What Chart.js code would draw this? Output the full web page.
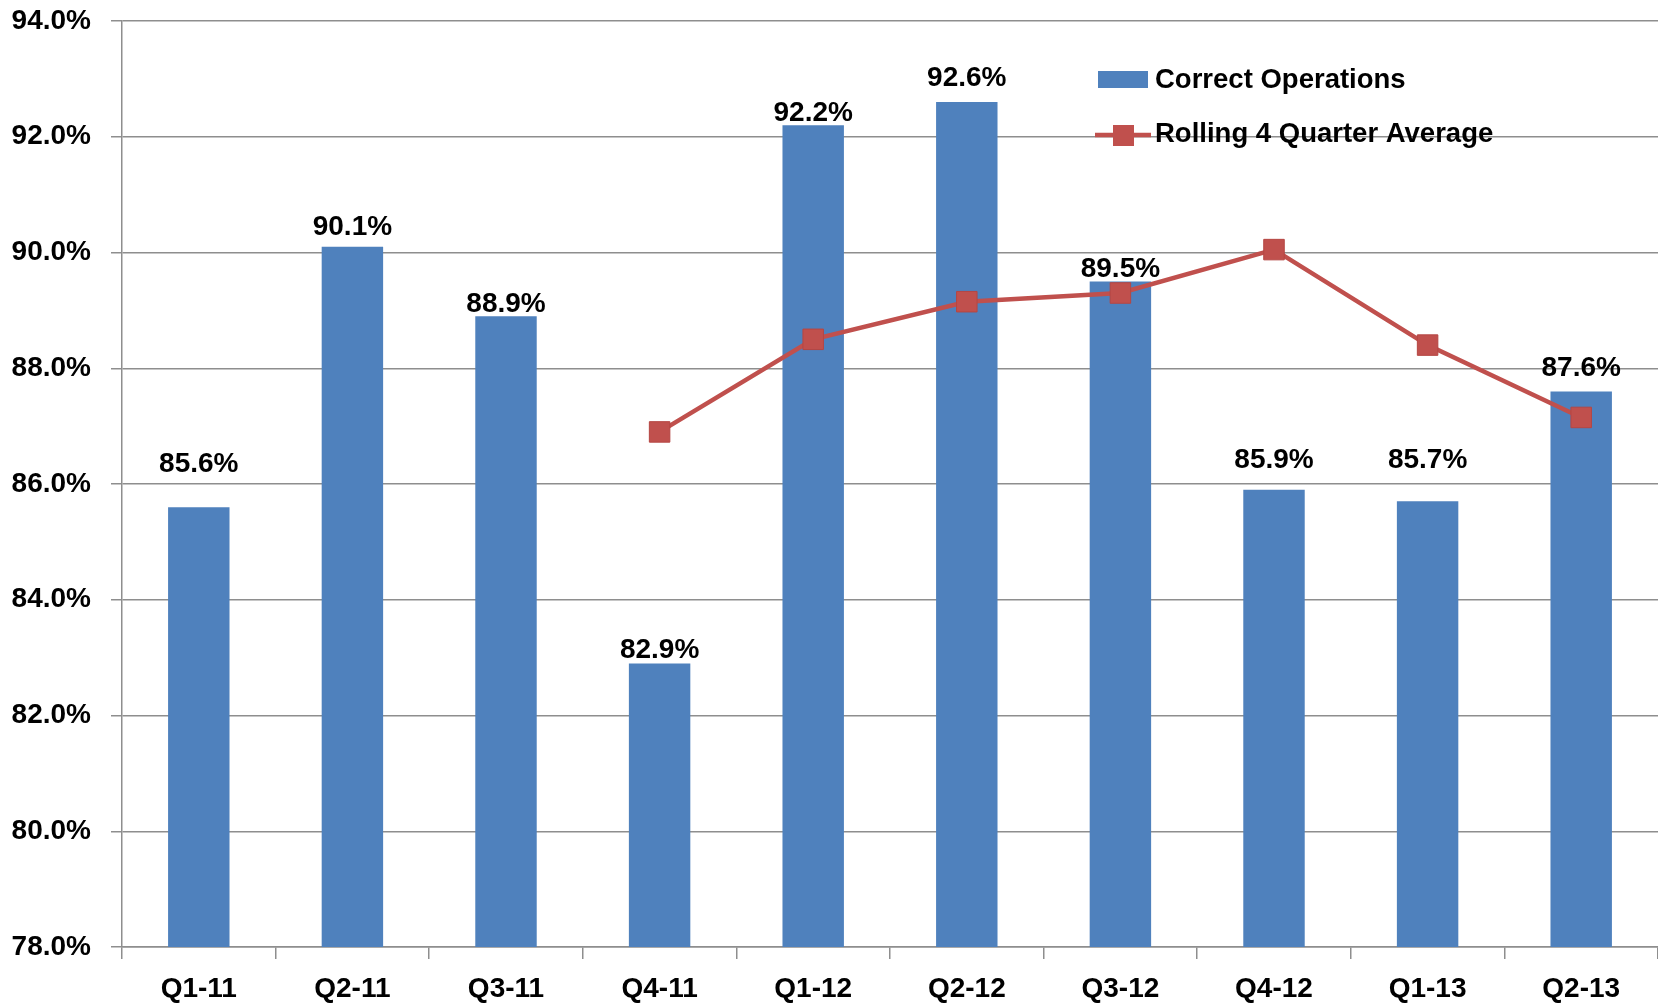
<!DOCTYPE html>
<html>
<head>
<meta charset="utf-8">
<script src="https://cdn.jsdelivr.net/npm/chart.js@4/dist/chart.umd.min.js"></script>
<style>
    body { margin: 0; background: #fff; overflow: hidden; }
    #wrap { width: 1658px; height: 1007px; }
</style>
</head>
<body>
<div id="wrap"><canvas id="myChart"></canvas></div>
<script>
const quarters = ['Q1-11', 'Q2-11', 'Q3-11', 'Q4-11', 'Q1-12', 'Q2-12', 'Q3-12', 'Q4-12', 'Q1-13', 'Q2-13'];
const correctOps = [85.6, 90.1, 88.9, 82.9, 92.2, 92.6, 89.5, 85.9, 85.7, 87.6];
const rollingAvg = [null, null, null, 86.9, 88.5, 89.15, 89.3, 90.05, 88.4, 87.15];
const yTicks = [78, 80, 82, 84, 86, 88, 90, 92, 94];

const BLUE = '#4F81BD';
const RED = '#C0504D';
const GRID = '#8e8e8e';
const FAMILY = '"Liberation Sans", Arial, sans-serif';
const FONT = 'bold 28px ' + FAMILY;
const LEGEND_FONT = 'bold 27.5px ' + FAMILY;

// how far each bar label sits above its bar (px), labels were nudged by hand in the original
const labelLift = [35, 12, 4, 5, 4, 16, 4, 22, 33, 15];

const barLabels = {
    id: 'barLabels',
    afterDatasetDraw(chart, args) {
        if (args.index !== 0) return;
        const c = chart.ctx;
        c.save();
        c.font = FONT;
        c.fillStyle = '#000';
        c.textAlign = 'center';
        c.textBaseline = 'alphabetic';
        args.meta.data.forEach(function (bar, i) {
            c.fillText(correctOps[i].toFixed(1) + '%', bar.x, bar.y - labelLift[i]);
        });
        c.restore();
    }
};

const legendBox = {
    id: 'legendBox',
    afterDraw(chart) {
        const c = chart.ctx;
        c.save();
        c.font = LEGEND_FONT;
        c.textBaseline = 'alphabetic';

        c.fillStyle = BLUE;
        c.fillRect(1098, 71, 50, 17);
        c.fillStyle = '#000';
        c.fillText(chart.data.datasets[0].label, 1155, 88);

        c.strokeStyle = RED;
        c.lineWidth = 4.5;
        c.beginPath();
        c.moveTo(1095, 135);
        c.lineTo(1151, 135);
        c.stroke();
        c.fillStyle = RED;
        c.fillRect(1113, 125, 21, 21);
        c.fillStyle = '#000';
        c.fillText(chart.data.datasets[1].label, 1155, 142);
        c.restore();
    }
};

const ctx = document.getElementById('myChart');
new Chart(ctx, {
    type: 'bar',
    data: {
        labels: quarters,
        datasets: [
            {
                label: 'Correct Operations',
                data: correctOps,
                backgroundColor: BLUE,
                barPercentage: 0.4,
                categoryPercentage: 1,
                order: 1
            },
            {
                type: 'line',
                label: 'Rolling 4 Quarter Average',
                data: rollingAvg,
                borderColor: RED,
                borderWidth: 4.5,
                pointStyle: 'rect',
                pointRadius: 14.5,
                pointBackgroundColor: RED,
                pointBorderColor: '#b54643',
                pointBorderWidth: 1,
                tension: 0,
                order: 0
            }
        ]
    },
    options: {
        responsive: true,
        maintainAspectRatio: false,
        animation: false,
        layout: {autoPadding: false, padding: {top: 21, right: 0, left: 0, bottom: 0}},
        plugins: {legend: {display: false}, tooltip: {enabled: false}},
        scales: {
            x: {
                grid: {offset: true, drawOnChartArea: false, drawTicks: true, tickLength: 12, color: GRID, lineWidth: 1.5},
                border: {display: true, color: GRID, width: 1.5},
                ticks: {color: '#000', font: {family: FAMILY, size: 28, weight: 'bold'}, padding: 13},
                afterFit: function (s) {
                    s.height = 60;
                    s.paddingLeft = 0;
                    s.paddingRight = 0;
                }
            },
            y: {
                min: yTicks[0],
                max: yTicks[yTicks.length - 1],
                afterBuildTicks: function (s) { s.ticks = yTicks.map(function (v) { return {value: v}; }); },
                grid: {color: GRID, lineWidth: 1.5, tickLength: 11},
                border: {display: true, color: GRID, width: 1.5},
                ticks: {
                    color: '#000',
                    font: {family: FAMILY, size: 28, weight: 'bold'},
                    padding: 20,
                    callback: function (v) { return v.toFixed(1) + '%'; }
                },
                afterFit: function (s) {
                    s.width = 122;
                    s.paddingTop = 0;
                    s.paddingBottom = 0;
                }
            }
        }
    },
    plugins: [barLabels, legendBox]
});
</script>
</body>
</html>
